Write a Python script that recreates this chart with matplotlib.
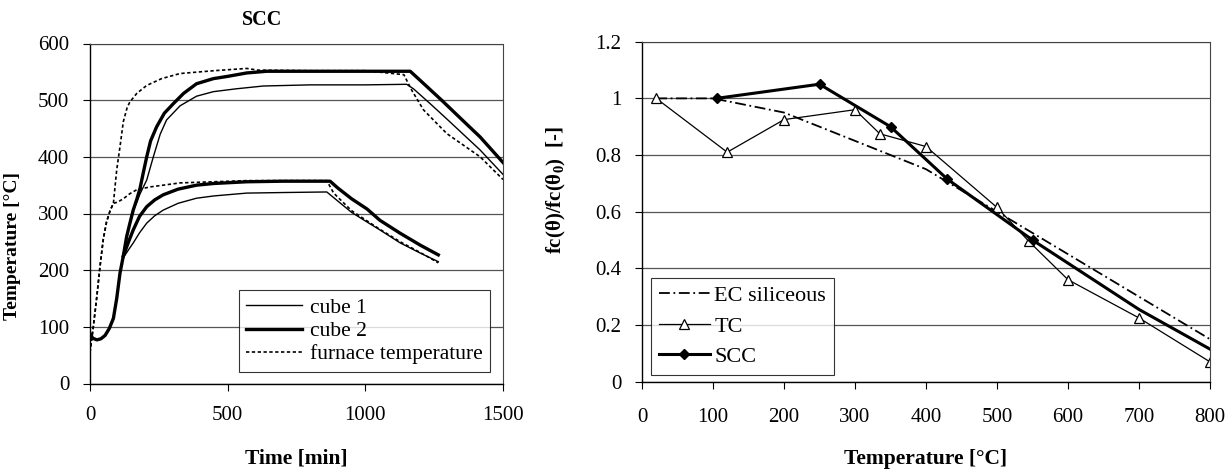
import numpy as np
import matplotlib
matplotlib.use("Agg")
import matplotlib.pyplot as plt

# ── data: left panel (SCC heating curves) ───────────────────────────────────
# shared early part of all cube curves
t_start = [0, 10, 25, 40, 55, 70, 85, 97, 109, 121]
T_start = [88, 80, 77, 79, 85, 97, 115, 150, 195, 225]

# upper test (target ~550 °C)
t_c2_hi = t_start + [133, 145, 157, 170, 182, 194, 206, 220, 242, 270, 303, 340, 387, 448, 500, 569, 642,
                     800, 1000, 1163, 1199, 1277, 1350, 1417, 1500]
T_c2_hi = T_start + [259, 283, 306, 325, 345, 373, 400, 428, 453, 477, 494, 512, 529, 538, 542, 548, 551,
                     551, 551, 551, 535, 500, 466, 435, 390]
t_c1_hi = t_start + [133, 145, 157, 170, 182, 206, 230, 255, 278, 327, 387, 448, 530, 630, 800, 1000, 1150,
                     1175, 1235, 1300, 1417, 1500]
T_c1_hi = T_start + [259, 283, 305, 320, 335, 359, 400, 440, 465, 490, 507, 515, 520, 525, 527, 527, 528,
                     520, 494, 465, 412, 369]
t_furn_hi = [0, 12, 24, 36, 48, 60, 73, 85, 97, 109, 121, 135, 145, 170, 206, 260, 327, 450, 569, 610,
             800, 1000, 1140, 1168, 1211, 1296, 1417, 1500]
T_furn_hi = [55, 100, 150, 205, 254, 285, 305, 318, 377, 418, 462, 487, 497, 512, 526, 538, 547, 552, 556, 553,
             552, 552, 545, 518, 483, 441, 400, 360]

# lower test (target ~350 °C)
t_c2_lo = [121, 140, 157, 180, 206, 235, 266, 320, 387, 450, 569, 700, 872, 900, 950, 1006, 1053, 1127,
           1200, 1265]
T_c2_lo = [225, 250, 271, 295, 312, 324, 333, 343, 350, 353, 356, 357, 357, 345, 326, 308, 288, 265,
           244, 227]
t_c1_lo = [121, 140, 157, 180, 206, 235, 266, 320, 387, 450, 569, 700, 860, 880, 950, 1006, 1053, 1127,
           1200, 1265]
T_c1_lo = [222, 236, 248, 266, 283, 296, 306, 318, 327, 331, 336, 337, 338, 330, 302, 285, 271, 248,
           230, 215]
t_furn_lo = [0, 12, 24, 36, 48, 60, 73, 85, 100, 121, 145, 170, 220, 327, 569, 860, 885, 950, 1006, 1053,
             1127, 1200, 1265]
T_furn_lo = [55, 100, 150, 205, 254, 285, 305, 318, 320, 326, 335, 342, 347, 354, 358, 358, 336, 305, 287,
             272, 250, 231, 213]

# ── data: right panel (relative compressive strength) ───────────────────────
ec_temp = [20, 100, 200, 300, 400, 500, 600, 700, 800]
ec_val = [1.0, 1.0, 0.95, 0.85, 0.75, 0.60, 0.45, 0.30, 0.15]
tc_temp = [20, 120, 200, 300, 335, 400, 500, 545, 600, 700, 800]
tc_val = [1.0, 0.81, 0.925, 0.96, 0.875, 0.83, 0.615, 0.495, 0.36, 0.225, 0.07]
scc_temp = [105, 250, 350, 430, 550, 700, 800]
scc_val = [1.0, 1.05, 0.90, 0.715, 0.50, 0.255, 0.115]

plt.rcParams.update({
    "font.family": ["Liberation Serif", "DejaVu Serif"],
    "font.size": 15,
    "mathtext.fontset": "custom",
    "mathtext.rm": "Liberation Serif:bold",
    "mathtext.it": "Liberation Serif:bold",
    "mathtext.bf": "Liberation Serif:bold",
})

GRID = dict(color="#555555", linewidth=0.9)
W, H = 1232, 475

fig = plt.figure(figsize=(W / 100, H / 100), dpi=100)
ax1 = fig.add_axes([90 / W, 1 - 383.5 / H, (503 - 90) / W, (383.5 - 43.5) / H])
ax2 = fig.add_axes([642 / W, 1 - 381.7 / H, (1210 - 642) / W, (381.7 - 41.7) / H])


def style_axes(ax, xpad):
    for side in ("top", "right"):
        ax.spines[side].set_linestyle((0, (1, 1)))
        ax.spines[side].set_linewidth(0.8)
        ax.spines[side].set_color("#444444")
    for side in ("left", "bottom"):
        ax.spines[side].set_linewidth(1.0)
    ax.tick_params(direction="out", length=5, width=0.8, labelsize=15)
    ax.tick_params(axis="x", pad=xpad)
    ax.tick_params(axis="y", pad=10)
    ax.grid(axis="y", **GRID)
    ax.set_axisbelow(True)


# ── left panel ──────────────────────────────────────────────────────────────
ax1.plot(t_c1_hi, T_c1_hi, color="black", lw=1.0, label="cube 1")
ax1.plot(t_c1_lo, T_c1_lo, color="black", lw=1.0)
ax1.plot(t_c2_hi, T_c2_hi, color="black", lw=2.4, label="cube 2")
ax1.plot(t_c2_lo, T_c2_lo, color="black", lw=2.4)
ax1.plot(t_furn_hi, T_furn_hi, color="black", lw=1.2, ls=(0, (2, 1.5)), label="furnace temperature")
ax1.plot(t_furn_lo, T_furn_lo, color="black", lw=1.2, ls=(0, (2, 1.5)))
ax1.set_xlim(0, 1500)
ax1.set_ylim(0, 600)
ax1.set_xticks([0, 500, 1000, 1500])
ax1.set_yticks(range(0, 601, 100))
style_axes(ax1, 11)
ax1.set_ylabel("Temperature [°C]", fontweight="bold", fontsize=14)
ax1.yaxis.set_label_coords(-0.167, 0.404)
ax1.set_xlabel("Time [min]", fontweight="bold", fontsize=15.5)
ax1.xaxis.set_label_coords(0.5, -(448 - 383.5) / 340)
leg1 = ax1.legend(loc="lower right", bbox_to_anchor=(490 / W, 1 - 372 / H), bbox_transform=fig.transFigure,
                  frameon=True, fancybox=False, edgecolor="black", fontsize=15.5, handlelength=2.6,
                  borderpad=0.35, labelspacing=0.15, handletextpad=0.35, borderaxespad=0)
leg1.get_frame().set_linewidth(0.8)
fig.text(262 / W, 1 - 20 / H, "SCC", ha="center", va="center", fontweight="bold", fontsize=14.5)

# ── right panel ─────────────────────────────────────────────────────────────
ax2.plot(ec_temp, ec_val, color="black", lw=1.3, ls=(0, (6, 2, 1, 2)), label="EC siliceous")
ax2.plot(tc_temp, tc_val, color="black", lw=0.9, marker="^", ms=6.5, mfc="white", mec="black",
         mew=0.9, label="TC")
ax2.plot(scc_temp, scc_val, color="black", lw=2.2, marker="D", ms=5, mfc="black",
         markevery=[0, 1, 2, 3, 4], label="SCC")
ax2.set_xlim(0, 800)
ax2.set_ylim(0, 1.2)
ax2.set_xticks(range(0, 801, 100))
ax2.set_yticks([0, 0.2, 0.4, 0.6, 0.8, 1.0, 1.2])
ax2.set_yticklabels(["0", "0.2", "0.4", "0.6", "0.8", "1", "1.2"])
style_axes(ax2, 14)
ax2.set_ylabel("fc(θ)/fc(θ$_0$)  [-]", fontweight="bold", fontsize=15)
ax2.yaxis.set_label_coords(-0.130, 0.564)
ax2.set_xlabel("Temperature [°C]", fontweight="bold", fontsize=15.5)
ax2.xaxis.set_label_coords(0.5, -(449 - 381.7) / 340)
leg2 = ax2.legend(loc="lower left", bbox_to_anchor=(651 / W, 1 - 375 / H), bbox_transform=fig.transFigure,
                  frameon=True, fancybox=False, edgecolor="black", fontsize=16, handlelength=2.3,
                  borderpad=0.35, labelspacing=0.45, handletextpad=0.2, borderaxespad=0)
leg2.get_frame().set_linewidth(0.8)

fig.savefig("out.png", dpi=100)
